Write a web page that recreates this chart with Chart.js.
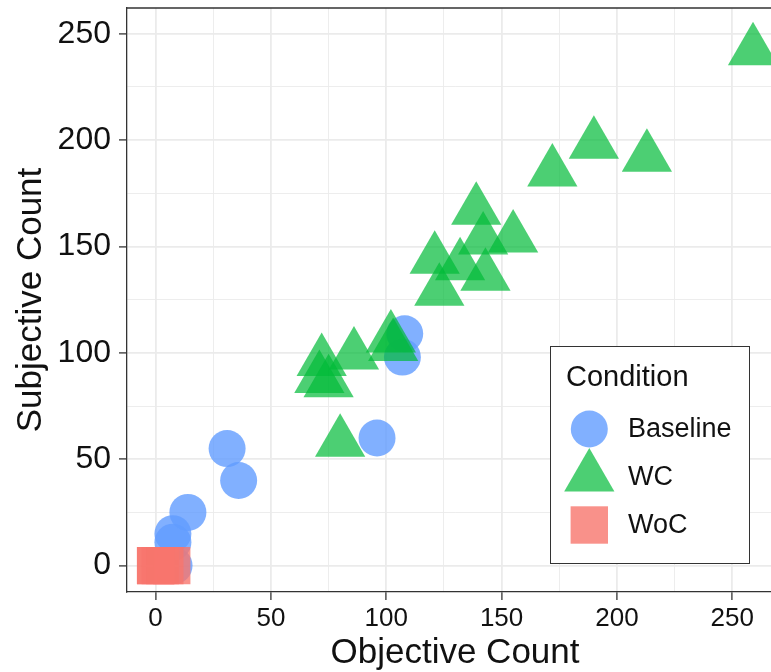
<!DOCTYPE html>
<html>
<head>
<meta charset="utf-8">
<script src="https://cdn.jsdelivr.net/npm/chart.js@4"></script>
<style>
  html, body { margin: 0; padding: 0; background: #fff; }
  #wrap { width: 771px; height: 672px; overflow: hidden; }
  canvas { display: block; }
</style>
</head>
<body>
<!-- the panel runs a little past the right edge, as in the cropped figure -->
<div id="wrap"><canvas id="chart" width="783" height="672"></canvas></div>
<script>
// condition names and series values (objective, subjective)
const conditions = ['Baseline', 'WC', 'WoC'];

const baselineX = [7.5, 7.5, 8, 14, 31, 36, 96, 107, 108];
const baselineY = [15, 11, 0, 25, 55, 40, 60, 98, 109];

const wcX = [259, 190, 213, 172, 139, 142, 155, 121, 132, 143, 123, 72, 86, 102, 103, 71, 75, 80];
const wcY = [242, 198, 192, 185, 167, 153, 154, 144, 141, 136, 129, 96, 99, 107, 103, 88, 86, 58];

const wocX = [0, 0, 2, 4, 7];
const wocY = [0, 0, 0, 0, 0];

// grid positions (major ones get a label)
const gridValues = [0, 25, 50, 75, 100, 125, 150, 175, 200, 225, 250];
const majorTicks = [0, 50, 100, 150, 200, 250];

const colors = {
  Baseline: 'rgba(97,156,255,0.8)',
  WC: 'rgba(0,186,56,0.7)',
  WoC: 'rgba(248,118,109,0.8)'
};

function pts(xs, ys) {
  return xs.map((x, i) => ({ x: x, y: ys[i] }));
}

const isMajor = v => majorTicks.includes(v);

function axisGrid() {
  return {
    color: '#EBEBEB',
    lineWidth: c => (c.tick && isMajor(c.tick.value)) ? 1.8 : 0.9,
    tickColor: c => (c.tick && isMajor(c.tick.value)) ? '#333333' : 'rgba(0,0,0,0)',
    tickLength: 8,
    tickWidth: 1.3
  };
}

// top panel border + ggplot-like legend box
const panelAndLegend = {
  id: 'panelAndLegend',
  afterDraw(chart) {
    const ctx = chart.ctx;
    const a = chart.chartArea;
    ctx.save();
    ctx.strokeStyle = '#333333';
    ctx.lineWidth = 1.3;
    ctx.beginPath();
    ctx.moveTo(a.left, a.top);
    ctx.lineTo(a.right, a.top);
    ctx.lineTo(a.right, a.bottom);
    ctx.stroke();

    // legend
    const bx = 550, by = 346, bw = 199, bh = 217;
    ctx.fillStyle = '#fff';
    ctx.fillRect(bx, by, bw, bh);
    ctx.strokeStyle = '#333333';
    ctx.lineWidth = 1;
    ctx.strokeRect(bx + 0.5, by + 0.5, bw, bh);

    ctx.fillStyle = '#111';
    ctx.textBaseline = 'middle';
    ctx.textAlign = 'left';
    ctx.font = '29px "Liberation Sans", Arial, sans-serif';
    ctx.fillText('Condition', 566, 378);

    const sx = 589.3;
    const rows = [429, 477, 525];
    // circle
    ctx.fillStyle = colors.Baseline;
    ctx.beginPath();
    ctx.arc(sx, rows[0], 18.5, 0, Math.PI * 2);
    ctx.fill();
    // triangle
    ctx.fillStyle = colors.WC;
    const r = 29;
    ctx.beginPath();
    ctx.moveTo(sx, rows[1] - r);
    ctx.lineTo(sx + r * Math.sin(2 * Math.PI / 3), rows[1] + r / 2);
    ctx.lineTo(sx - r * Math.sin(2 * Math.PI / 3), rows[1] + r / 2);
    ctx.closePath();
    ctx.fill();
    // square
    ctx.fillStyle = colors.WoC;
    ctx.fillRect(sx - 18.7, rows[2] - 18.7, 37.4, 37.4);

    ctx.fillStyle = '#111';
    ctx.font = '27px "Liberation Sans", Arial, sans-serif';
    conditions.forEach((c, i) => ctx.fillText(c, 628, rows[i] + 1));
    ctx.restore();
  }
};

new Chart(document.getElementById('chart'), {
  type: 'scatter',
  data: {
    datasets: [
      {
        label: conditions[0],
        data: pts(baselineX, baselineY),
        pointStyle: 'circle',
        pointRadius: 18.5,
        backgroundColor: colors.Baseline,
        borderWidth: 0,
        order: 2
      },
      {
        label: conditions[1],
        data: pts(wcX, wcY),
        pointStyle: 'triangle',
        pointRadius: 29,
        backgroundColor: colors.WC,
        borderWidth: 0,
        order: 1
      },
      {
        label: conditions[2],
        data: pts(wocX, wocY),
        pointStyle: 'rect',
        pointRadius: 26.4,
        backgroundColor: colors.WoC,
        borderWidth: 0,
        order: 0
      }
    ]
  },
  options: {
    responsive: false,
    animation: false,
    devicePixelRatio: 1,
    layout: { autoPadding: false, padding: { top: 8, left: 0, right: 0, bottom: 0 } },
    plugins: {
      legend: { display: false },
      tooltip: { enabled: false }
    },
    elements: { point: { hoverRadius: 0 } },
    scales: {
      x: {
        type: 'linear',
        min: -12.4,
        max: 272,
        grid: axisGrid(),
        border: { color: '#333333', width: 1.3 },
        afterBuildTicks: s => { s.ticks = gridValues.map(v => ({ value: v })); },
        ticks: {
          autoSkip: false,
          maxRotation: 0,
          padding: 3,
          color: '#111',
          font: { family: '"Liberation Sans", Arial, sans-serif', size: 26 },
          callback: v => isMajor(v) ? String(v) : ''
        },
        title: {
          display: true,
          text: 'Objective Count',
          color: '#111',
          font: { family: '"Liberation Sans", Arial, sans-serif', size: 35, lineHeight: 1 },
          padding: { top: 0, bottom: 1.5 }
        },
        afterFit: s => { s.height = 80; s.paddingLeft = 0; s.paddingRight = 0; }
      },
      y: {
        type: 'linear',
        min: -12.4,
        max: 262.1,
        grid: axisGrid(),
        border: { color: '#333333', width: 1.3 },
        afterBuildTicks: s => { s.ticks = gridValues.map(v => ({ value: v })); },
        ticks: {
          autoSkip: false,
          padding: 8,
          color: '#111',
          font: { family: '"Liberation Sans", Arial, sans-serif', size: 32 },
          callback: v => isMajor(v) ? String(v) : ''
        },
        title: {
          display: true,
          text: 'Subjective Count',
          color: '#111',
          font: { family: '"Liberation Sans", Arial, sans-serif', size: 35, lineHeight: 1.2 },
          padding: { top: 10, bottom: 0 }
        },
        afterFit: s => { s.width = 127; s.paddingTop = 0; s.paddingBottom = 0; }
      }
    }
  },
  plugins: [panelAndLegend]
});
</script>
</body>
</html>
